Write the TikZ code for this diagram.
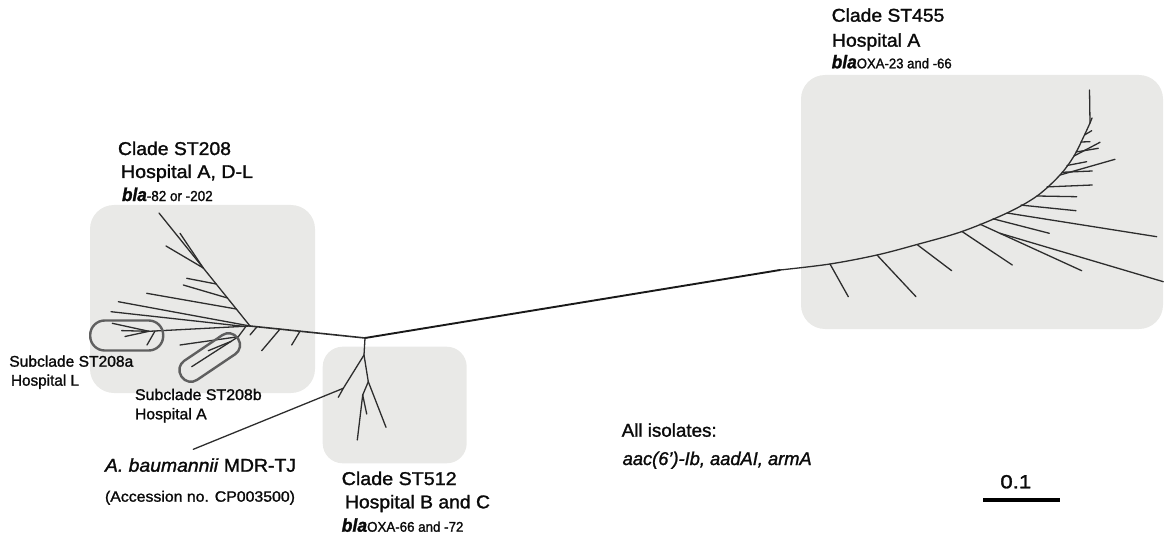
\documentclass[tikz,border=0pt]{standalone}
\usepackage{fontspec}
\setmainfont{Liberation Sans}[FakeBold=1.4]
\usepackage{graphicx}
\newcommand{\fitw}[2]{\resizebox{#1pt}{\height}{#2}}
\definecolor{boxgray}{RGB}{233,233,231}
\definecolor{brc}{RGB}{45,45,45}
\definecolor{ringc}{RGB}{95,95,95}
\definecolor{txt}{RGB}{10,10,10}
\tikzset{
  cladebox/.style={fill=boxgray, draw=none, rounded corners=24pt},
  br/.style={draw=brc, line width=1.3pt, line cap=round, line join=round},
  mainbr/.style={draw=black!90, line width=1.9pt, line cap=round},
  ring/.style={draw=ringc, line width=2.4pt, inner sep=0pt},
  lbl/.style={anchor=base west, inner sep=0pt, outer sep=0pt, text=txt, font=\fontsize{18.5}{20}\selectfont},
  sublbl/.style={lbl, font=\fontsize{15.5}{17}\selectfont},
  sml/.style={lbl, font=\fontsize{15}{16}\selectfont},
}
\begin{document}
\begin{tikzpicture}[x=1pt,y=-1pt]
\useasboundingbox (0,0) rectangle (1164,540);
% clade backgrounds
\fill[cladebox] (90,205) rectangle (315,393);
\fill[cladebox, rounded corners=20pt] (322.7,346.7) rectangle (466.7,463.3);
\fill[cladebox] (801,75) rectangle (1163,329);

% key coordinates
\coordinate (R) at (365,338);
\coordinate (N1) at (250,326);
\coordinate (J) at (780,270);
\coordinate (T1) at (159,213);
\coordinate (A) at (149,331.3);
\coordinate (Bn) at (238.3,336.7);
\coordinate (S1) at (364,355);
\coordinate (S2) at (343.3,388.3);
\coordinate (S3) at (368.3,381.7);
\coordinate (S4) at (362.7,395);
\coordinate (MDR) at (193.3,449.3);

% main internal branch
\draw[mainbr] (R) -- (J);
\draw[br, line width=1.6pt] (R) -- (N1);

% ---- ST208 ----
\draw[br] (N1) -- (T1);
\draw[br] (203.3,268) -- (180,233.3);
\draw[br] (203.3,268) -- (166,246);
\draw[br] (216.2,284) -- (186.7,278.3);
\draw[br] (227.5,298) -- (183.3,285);
\draw[br] (236.3,309) -- (146.7,293.3);
\draw[br] (N1) -- (118.3,301.7);
\draw[br] (244,326.4) -- (111,311.7);
\draw[br] (N1) -- (A);
\draw[br] (A) -- (112.3,323.3);
\draw[br] (A) -- (125,336.5);
\draw[br] (A) -- (121.7,330.6);
\draw[br] (155,331) -- (147,345);
\draw[br] (246,326.3) -- (Bn);
\draw[br] (Bn) -- (180,345);
\draw[br] (Bn) -- (191.7,366.7);
\draw[br] (231,341.4) -- (208.3,350.7);
\draw[br] (257,326.7) -- (250,335);
\draw[br] (280,329.1) -- (261.7,350.7);
\draw[br] (300,331.2) -- (291.7,345);
% subclade rings
\node[ring, minimum width=73pt, minimum height=30pt, rounded corners=14.5pt] (ringa) at (126.7,335.5) {};
\node[ring, minimum width=68pt, minimum height=23pt, rounded corners=11pt, rotate=34] (ringb) at (209.7,357.5) {};

% ---- ST512 ----
\draw[br] (R) -- (S1);
\draw[br] (S1) -- (S2);
\draw[br] (S2) -- (338.3,397.3);
\draw[br] (S2) -- (MDR);
\draw[br] (S1) -- (S3);
\draw[br] (S3) -- (386,427.3);
\draw[br] (S3) -- (S4);
\draw[br] (S4) -- (357.3,440);
\draw[br] (S4) -- (366.7,414);

% ---- ST455 ----
\draw[br] plot[smooth, tension=0.55] coordinates {(780,270) (830,264) (877,255) (917,244.5) (962,231.5) (1007,213) (1037,196) (1060,175) (1074,156) (1084,136) (1090,123)} -- (1089.5,90);
\draw[br] (830,264) -- (848.3,296.7);
\draw[br] (877,255) -- (916,296.7);
\draw[br] (917,244.5) -- (951.7,270.7);
\draw[br] (962,231.5) -- (1012.3,265);
\draw[br] (980,224.2) -- (1081.7,270.7);
\draw[br] (1000,233.3) -- (1163.3,281.7);
\draw[br] (993,218.8) -- (1049.3,233.3);
\draw[br] (1007,213) -- (1156.7,236.7);
\draw[br] (1021,205.1) -- (1076,210.7);
\draw[br] (1037,196) -- (1076.7,196.7);
\draw[br] (1047,186.9) -- (1092.3,185);
\draw[br] (1060,175) -- (1115,159.3);
\draw[br] (1062,172.3) -- (1092.3,171);
\draw[br] (1067,165.5) -- (1086.7,161.7);
\draw[br] (1074,156) -- (1100,142.3);
\draw[br] (1076,152) -- (1098.3,148.3);
\draw[br] (1081,142) -- (1090,141.7);
\draw[br] (1084.5,135) -- (1091.7,130.7);
\draw[br] (1090,123) -- (1092,118);

% ---- labels ----
\node[lbl] (c455) at (831.7,21.7) {\fitw{112.7}{Clade ST455}};
\node[lbl] (h455) at (832,46.7) {\fitw{88.3}{Hospital A}};
\node[lbl] (b455) at (831.7,68.3) {\fitw{120}{\textbf{\textit{bla}}\fontsize{14}{15}\selectfont OXA-23 and -66}};

\node[lbl] (c208) at (118,155) {\fitw{113}{Clade ST208}};
\node[lbl] (h208) at (121,178) {\fitw{132}{Hospital A, D-L}};
\node[lbl] (b208) at (122,201) {\fitw{90.7}{\textbf{\textit{bla}}\fontsize{14.5}{15}\selectfont -82 or -202}};

\node[sublbl] (sa) at (9.3,366.7) {\fitw{124}{Subclade ST208a}};
\node[sublbl] (sah) at (11,385.7) {\fitw{68}{Hospital L}};
\node[sublbl] (sb) at (135,400) {\fitw{126.7}{Subclade ST208b}};
\node[sublbl] (sbh) at (135,419.3) {\fitw{71.7}{Hospital A}};

\node[lbl] (mdr) at (105,471.7) {\fitw{191}{\textit{A. baumannii} MDR-TJ}};
\node[sml] (acc) at (105,501.7) {\fitw{190}{(Accession no. CP003500)}};

\node[lbl] (c512) at (341.7,485) {\fitw{115}{Clade ST512}};
\node[lbl] (h512) at (345,508.3) {\fitw{145}{Hospital B and C}};
\node[lbl] (b512) at (341.7,531.7) {\fitw{121.7}{\textbf{\textit{bla}}\fontsize{14}{15}\selectfont OXA-66 and -72}};

\node[lbl] (all) at (621.7,436.7) {\fitw{95}{All isolates:}};
\node[lbl] (genes) at (622.7,465) {\fitw{189}{\textit{aac(6’)-Ib, aadAI, armA}}};

\node[lbl, anchor=base, font=\fontsize{19}{20}\selectfont] (sbl) at (1015.8,488.3) {\fitw{31}{0.1}};
\coordinate (sbL) at (983.3,500);
\coordinate (sbR) at (1060,500);
\draw[line width=4pt, black] (sbL) -- (sbR);
\end{tikzpicture}
\end{document}
